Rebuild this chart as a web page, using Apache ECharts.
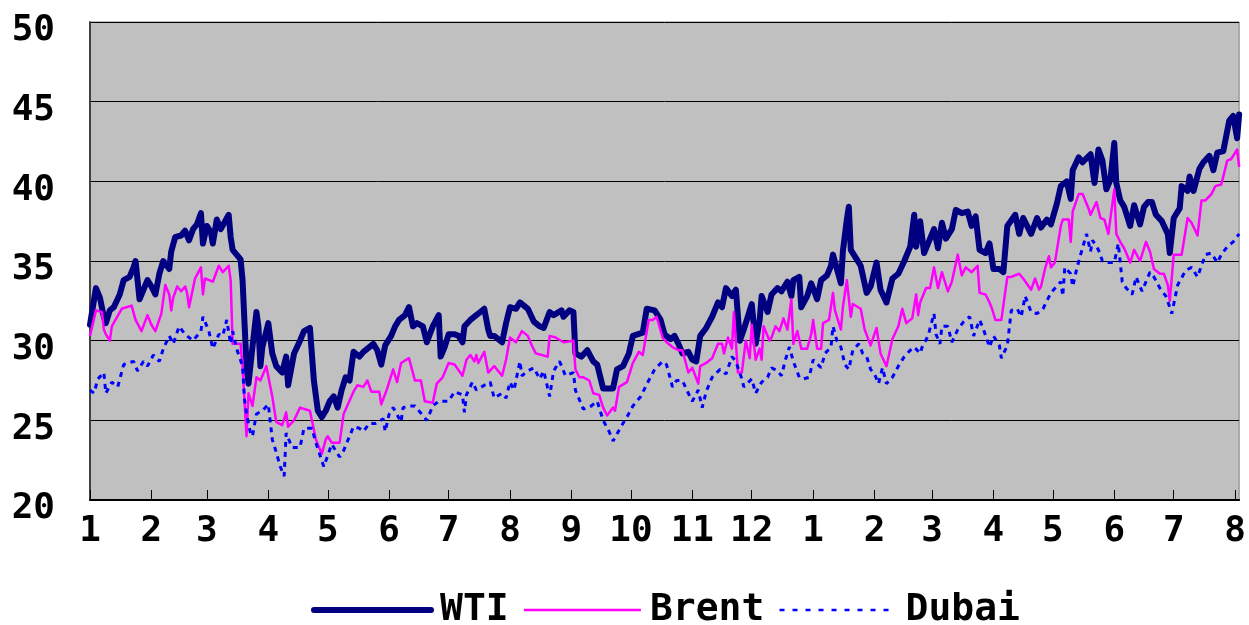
<!DOCTYPE html>
<html>
<head>
<meta charset="utf-8">
<script src="https://cdn.jsdelivr.net/npm/echarts@6/dist/echarts.min.js"></script>
<style>
html, body { margin: 0; padding: 0; background: #fff; }
#chart_oil { width: 1249px; height: 625px; }
</style>
</head>
<body>
<div id="chart_oil"></div>
<script>
// [days since 2003-01-01, price $/bbl]
var wti = [[0,31.0],[3,33.3],[5,32.7],[7,31.5],[8,31.1],[10,31.9],[12,32.1],[15,32.9],[17,33.8],[18,33.9],[20,34.0],[22,34.6],[23,35.0],[25,32.6],[29,33.8],[31,33.4],[33,32.9],[35,34.2],[37,35.0],[40,34.5],[41,35.6],[43,36.5],[46,36.6],[48,36.9],[50,36.3],[52,37.0],[54,37.3],[56,38.0],[57,36.1],[59,37.2],[61,36.8],[62,36.1],[64,37.6],[66,37.0],[70,37.9],[71,36.5],[72,35.7],[76,35.1],[77,33.8],[78,31.1],[79,28.4],[80,27.3],[82,29.6],[84,31.8],[85,30.9],[86,28.4],[87,29.6],[90,31.1],[92,29.2],[94,28.4],[97,28.0],[99,29.0],[100,27.2],[103,29.2],[106,30.0],[108,30.6],[111,30.8],[113,27.5],[115,25.6],[117,25.2],[119,25.6],[121,26.2],[123,26.5],[125,25.8],[127,26.9],[129,27.7],[131,27.5],[133,29.3],[136,29.0],[138,29.3],[141,29.6],[143,29.8],[145,29.4],[147,28.5],[149,29.7],[152,30.3],[154,30.9],[156,31.3],[159,31.6],[161,32.1],[163,30.9],[165,31.1],[168,30.9],[170,29.9],[173,30.9],[176,31.6],[177,29.0],[179,29.6],[181,30.4],[184,30.4],[186,30.3],[188,29.9],[189,30.9],[192,31.3],[195,31.6],[197,31.8],[199,32.0],[201,30.7],[202,30.3],[204,30.3],[208,29.9],[210,31.1],[212,32.1],[215,32.0],[217,32.4],[221,32.0],[224,31.2],[227,30.9],[229,30.8],[232,31.8],[234,31.6],[238,31.9],[239,31.5],[242,31.9],[244,31.8],[245,29.2],[248,29.0],[251,29.4],[254,28.7],[256,28.5],[259,27.0],[261,27.0],[264,27.0],[266,28.2],[269,28.4],[272,29.2],[274,30.3],[279,30.5],[281,32.0],[285,31.9],[288,31.3],[290,30.4],[293,30.1],[295,30.3],[297,29.8],[299,29.2],[302,29.3],[304,28.8],[306,28.7],[308,30.3],[311,30.8],[314,31.5],[317,32.4],[319,32.1],[321,33.3],[324,32.8],[326,33.2],[328,30.0],[330,30.7],[334,32.3],[336,29.8],[338,31.3],[339,32.8],[342,31.8],[344,32.9],[347,33.3],[349,33.1],[352,33.7],[354,32.8],[355,33.8],[358,34.0],[359,32.1],[360,32.2],[362,32.8],[364,33.6],[367,32.6],[369,33.8],[372,34.1],[374,34.7],[375,35.4],[377,34.5],[379,33.6],[380,35.6],[382,37.6],[383,38.4],[384,35.7],[387,35.1],[389,34.7],[392,33.0],[394,33.4],[397,34.9],[399,33.2],[402,32.4],[405,33.9],[408,34.2],[411,35.0],[414,35.9],[416,37.9],[417,35.9],[419,37.5],[421,35.5],[424,36.4],[426,37.0],[428,35.8],[430,37.4],[432,36.4],[435,37.0],[437,38.2],[440,38.0],[443,38.1],[445,37.2],[447,37.8],[449,35.7],[452,35.5],[454,36.1],[456,34.5],[459,34.5],[461,34.3],[463,37.2],[467,37.9],[469,36.7],[471,37.7],[475,36.7],[478,37.7],[480,37.1],[483,37.6],[485,37.3],[488,38.6],[490,39.7],[493,40.0],[495,38.9],[496,40.7],[499,41.5],[501,41.2],[505,41.7],[507,39.9],[509,42.0],[511,41.3],[513,39.5],[515,40.1],[517,42.4],[518,39.9],[520,38.8],[522,38.4],[525,37.2],[527,38.5],[530,37.3],[532,38.4],[534,38.7],[536,38.7],[538,37.9],[541,37.5],[544,36.7],[545,35.5],[547,37.7],[550,38.3],[551,39.7],[554,39.4],[555,40.3],[557,39.4],[560,40.8],[562,41.2],[565,41.6],[567,40.7],[569,41.8],[572,41.9],[575,43.8],[577,44.1],[579,42.7],[580,44.2]];

var brent = [[0,30.3],[3,31.9],[6,31.8],[7,30.7],[8,30.4],[10,30.0],[11,30.9],[16,32.0],[17,31.9],[21,32.2],[23,31.3],[26,30.6],[29,31.6],[31,31.0],[33,30.6],[36,31.7],[38,33.5],[40,32.9],[41,31.9],[42,32.7],[44,33.4],[46,33.1],[48,33.4],[49,33.0],[50,32.1],[53,33.9],[56,34.6],[57,32.9],[58,33.9],[62,33.7],[65,34.7],[67,34.3],[70,34.7],[71,33.8],[72,29.8],[76,29.8],[77,28.4],[79,24.0],[80,26.7],[82,25.9],[84,27.7],[86,27.5],[89,28.4],[92,26.5],[94,24.9],[97,24.7],[99,25.5],[100,24.6],[103,25.0],[106,25.8],[111,25.6],[114,23.8],[117,22.9],[119,23.8],[120,24.0],[122,23.6],[126,23.6],[128,25.4],[133,26.8],[135,27.2],[138,27.1],[140,27.5],[142,26.8],[146,26.8],[147,26.0],[150,27.0],[153,28.2],[155,27.4],[157,28.6],[161,28.9],[164,27.5],[167,27.5],[169,26.2],[173,26.1],[175,27.3],[178,27.7],[181,28.6],[184,28.5],[188,27.8],[190,28.8],[192,29.1],[194,28.7],[195,29.1],[196,28.6],[199,29.3],[201,28.0],[204,28.4],[208,27.8],[210,28.8],[212,30.2],[215,29.9],[218,30.6],[221,30.3],[223,29.7],[225,29.2],[228,29.1],[231,29.0],[232,30.3],[235,30.2],[239,29.9],[240,30.0],[244,30.0],[245,28.2],[247,27.7],[249,27.7],[252,27.5],[254,26.7],[257,26.6],[259,25.8],[261,25.3],[264,25.8],[265,25.6],[267,27.1],[271,27.4],[274,28.6],[277,29.3],[279,29.1],[282,31.3],[284,31.3],[286,31.5],[289,30.2],[291,29.9],[294,29.6],[297,29.4],[299,29.4],[302,28.0],[304,28.3],[307,27.3],[308,28.4],[311,28.6],[314,28.9],[317,29.8],[319,29.8],[320,29.2],[322,30.2],[324,29.5],[325,31.8],[327,28.0],[329,28.0],[331,30.0],[333,28.9],[334,31.0],[336,28.8],[338,29.5],[339,28.8],[340,30.9],[343,30.0],[344,30.2],[346,30.9],[348,30.6],[350,31.4],[352,30.7],[354,32.6],[355,29.8],[357,30.6],[359,29.5],[362,29.5],[364,30.4],[365,31.3],[367,29.5],[369,29.5],[370,31.1],[373,31.3],[375,33.0],[376,31.9],[379,30.7],[380,32.1],[382,33.8],[384,31.5],[385,32.3],[389,32.0],[391,30.7],[394,29.7],[397,30.8],[399,29.2],[402,28.4],[405,30.1],[408,30.9],[410,32.0],[412,31.1],[415,31.4],[417,32.9],[418,31.6],[419,32.4],[422,33.3],[424,33.3],[426,34.6],[428,33.3],[430,34.3],[433,33.1],[435,33.7],[438,35.4],[440,34.1],[442,34.6],[445,34.3],[448,34.7],[449,33.0],[452,32.9],[454,32.4],[455,32.1],[457,31.3],[460,31.3],[463,34.0],[465,34.0],[469,34.2],[471,33.9],[475,33.2],[477,33.9],[479,33.2],[480,33.4],[482,34.5],[484,35.3],[485,34.6],[487,34.9],[490,37.2],[491,37.6],[494,37.6],[495,36.2],[496,38.1],[499,39.2],[501,39.2],[504,38.3],[505,37.9],[508,38.7],[510,37.7],[512,37.6],[514,36.7],[515,36.8],[517,39.5],[518,36.7],[520,36.2],[522,35.8],[525,34.9],[527,35.7],[530,35.0],[533,36.2],[535,35.6],[537,34.5],[540,34.2],[542,34.2],[544,33.5],[545,32.5],[547,35.4],[549,35.4],[551,35.4],[554,37.7],[556,37.4],[559,36.6],[561,38.8],[563,38.8],[566,39.2],[568,39.7],[571,39.8],[574,41.3],[576,41.4],[579,42.0],[580,40.9]];

var dubai = [[0,26.9],[2,26.7],[4,27.6],[7,28.0],[8,26.7],[11,27.4],[14,27.1],[17,28.5],[19,28.6],[22,28.7],[24,28.1],[27,28.7],[29,28.4],[32,29.1],[35,28.7],[37,29.5],[40,30.3],[42,29.8],[45,30.9],[48,30.4],[52,30.0],[56,30.6],[57,31.5],[60,30.6],[62,29.5],[65,30.4],[67,30.3],[69,31.3],[71,29.8],[72,30.6],[74,29.5],[77,28.4],[78,26.3],[79,25.4],[81,24.2],[82,24.0],[84,25.4],[87,25.6],[90,26.0],[92,23.8],[94,23.0],[96,22.1],[98,21.5],[99,24.2],[102,23.3],[106,23.3],[108,24.5],[112,24.5],[114,23.6],[118,22.1],[119,22.2],[122,23.5],[126,22.7],[128,23.1],[131,24.0],[133,24.6],[136,24.5],[138,24.3],[141,24.8],[144,24.8],[148,25.1],[149,24.3],[151,25.4],[153,25.8],[157,24.9],[158,25.8],[161,25.9],[164,25.9],[168,25.3],[170,25.0],[173,25.9],[176,26.2],[181,26.2],[184,26.8],[188,26.6],[189,25.5],[190,26.6],[193,27.4],[195,26.9],[199,27.2],[202,27.4],[204,26.4],[208,26.7],[210,26.4],[212,27.4],[214,26.9],[217,28.7],[218,27.8],[221,28.1],[224,28.3],[227,27.6],[229,28.1],[232,26.5],[234,28.1],[237,28.7],[240,27.8],[244,28.0],[245,26.9],[247,26.3],[249,25.7],[253,25.9],[256,26.2],[259,25.0],[262,24.3],[264,23.7],[268,24.6],[271,25.2],[274,25.9],[278,26.5],[282,27.5],[285,28.2],[289,28.7],[291,28.5],[294,27.1],[296,27.5],[299,27.5],[302,26.7],[304,26.2],[307,26.9],[309,25.8],[311,26.8],[314,27.7],[318,28.2],[321,27.9],[324,29.0],[326,28.7],[329,27.6],[330,27.1],[334,27.6],[336,26.7],[339,27.4],[342,27.7],[344,28.3],[347,28.1],[349,27.8],[351,28.8],[353,29.6],[355,28.7],[358,27.7],[360,27.6],[363,27.7],[365,28.8],[369,28.3],[371,29.2],[374,29.6],[375,30.9],[377,30.0],[379,29.6],[381,28.5],[383,28.2],[385,29.4],[388,29.8],[390,29.2],[392,29.0],[394,28.2],[396,27.9],[398,27.3],[400,28.3],[402,27.3],[405,27.7],[408,28.4],[411,29.0],[414,29.4],[416,29.6],[419,29.2],[420,29.6],[423,30.3],[426,31.7],[427,30.4],[429,29.8],[430,30.9],[433,30.9],[435,29.9],[438,30.7],[441,31.2],[444,31.5],[446,30.3],[449,31.3],[451,30.7],[454,29.6],[456,30.3],[459,29.7],[460,28.9],[463,29.7],[464,30.8],[465,31.9],[468,32.0],[470,31.5],[472,32.8],[475,31.8],[478,31.7],[481,32.0],[485,33.0],[490,33.7],[491,32.8],[492,34.6],[495,34.2],[496,33.4],[498,34.5],[500,35.4],[503,36.7],[505,35.6],[506,36.3],[509,35.7],[511,35.0],[514,34.9],[517,34.9],[519,36.1],[521,33.7],[523,33.3],[526,32.9],[528,34.0],[531,33.1],[535,34.3],[537,34.0],[540,33.3],[543,32.8],[545,32.1],[546,31.7],[549,33.5],[553,34.4],[556,34.6],[559,34.0],[563,35.4],[566,35.5],[569,34.9],[571,35.4],[574,35.9],[577,36.2],[580,36.7]];

var startDate = '2003-01-01';
var dayCount = 581; // through 2004-08-03
var yMin = 20, yMax = 50, yStep = 5;

var fontsty = 'DejaVu Sans Mono';

// one category per calendar day
var days = [];
var t0 = Date.parse(startDate + 'T00:00:00Z');
for (var i = 0; i < dayCount; i++) {
  var d = new Date(t0 + i * 86400000);
  days.push(d.toISOString().slice(0, 10));
}
function isMonthStart(idx, val) {
  return val.slice(8, 10) == '01';
}

var myChart = echarts.init(document.getElementById('chart_oil'));
var option = {
  animation: false,
  grid: {
    left: 90,
    top: 22,
    right: 0,
    bottom: 125,
    show: true,
    backgroundColor: '#C0C0C0',
    borderColor: '#808080',
    borderWidth: 1
  },
  legend: {
    left: 306,
    top: 586,
    icon: 'inherit',
    itemWidth: 117,
    itemHeight: 20,
    itemGap: 14,
    // line series always add a marker to the legend icon, hide it
    itemStyle: { color: 'rgba(0,0,0,0)', borderWidth: 0, opacity: 0 },
    textStyle: {
      fontSize: 38,
      fontWeight: 'bold',
      fontFamily: fontsty,
      color: '#000',
      padding: [0, 0, 0, 4]
    },
    data: [
      { name: 'WTI', lineStyle: { width: 6, color: '#000080', opacity: 1 } },
      { name: 'Brent', lineStyle: { width: 2.5, color: '#FF00FF', opacity: 1 } },
      { name: 'Dubai', lineStyle: { width: 2.5, color: '#0000FF', type: [5, 8], opacity: 1 } }
    ]
  },
  xAxis: {
    type: 'category',
    data: days,
    boundaryGap: false,
    axisLine: { lineStyle: { color: '#000', width: 2 } },
    axisTick: {
      inside: true,
      length: 10,
      interval: isMonthStart,
      lineStyle: { color: '#000', width: 1 }
    },
    axisLabel: {
      interval: isMonthStart,
      margin: 14,
      fontSize: 36,
      fontWeight: 'bold',
      fontFamily: fontsty,
      color: '#000',
      formatter: function (val) {
        return String(parseInt(val.slice(5, 7), 10));
      }
    },
    splitLine: { show: false }
  },
  yAxis: {
    type: 'value',
    min: yMin,
    max: yMax,
    interval: yStep,
    axisLine: { show: true, lineStyle: { color: '#404040', width: 2 } },
    axisTick: { show: false },
    axisLabel: {
      margin: 35,
      fontSize: 36,
      fontWeight: 'bold',
      fontFamily: fontsty,
      color: '#000',
      verticalAlign: 'top',
      lineHeight: 18
    },
    splitLine: { lineStyle: { color: '#000', width: 1 } }
  },
  series: [
    {
      name: 'WTI',
      type: 'line',
      data: wti,
      symbol: 'none',
      z: 3,
      lineStyle: { color: '#000080', width: 6, join: 'round', cap: 'round' },
      itemStyle: { color: '#000080' }
    },
    {
      name: 'Brent',
      type: 'line',
      data: brent,
      symbol: 'none',
      z: 4,
      lineStyle: { color: '#FF00FF', width: 2.5, join: 'round' },
      itemStyle: { color: '#FF00FF' }
    },
    {
      name: 'Dubai',
      type: 'line',
      data: dubai,
      symbol: 'none',
      z: 5,
      lineStyle: { color: '#0000FF', width: 3, type: [5, 5] },
      itemStyle: { color: '#0000FF' }
    }
  ]
};
myChart.setOption(option);
</script>
</body>
</html>
